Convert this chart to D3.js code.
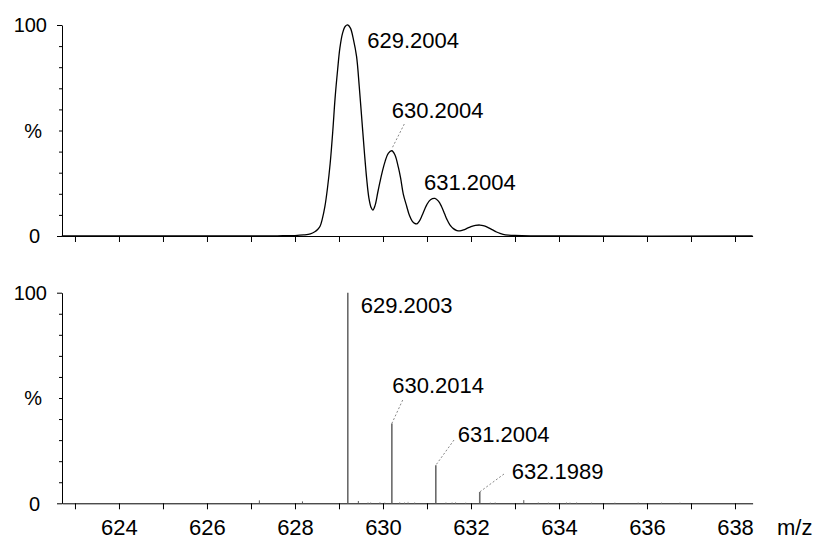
<!DOCTYPE html>
<html><head><meta charset="utf-8">
<script src="https://cdn.jsdelivr.net/npm/d3@7"></script>
<style>
html,body{margin:0;padding:0;background:#fff;}
svg text{font-family:"Liberation Sans",Arial,sans-serif;fill:#000;}
</style></head>
<body>
<svg id="chart" width="821" height="540"></svg>
<script>
// ---- data ----
// profile (top panel): [m/z, %]
const profileMz = [622.7,627.0,627.6,628.0,628.2,628.35,628.45,628.52,628.57,628.62,628.68,628.74,628.80,628.86,628.91,628.97,629.02,629.08,629.14,629.20,629.26,629.33,629.40,629.46,629.52,629.58,629.63,629.68,629.73,629.77,629.82,629.88,629.93,629.99,630.05,630.12,630.20,630.27,630.35,630.40,630.46,630.54,630.60,630.66,630.72,630.77,630.83,630.89,630.95,631.00,631.08,631.18,631.26,631.33,631.40,631.45,631.52,631.60,631.68,631.75,631.83,631.92,632.00,632.10,632.20,632.30,632.39,632.48,632.58,632.66,632.73,632.85,633.00,633.35,634.0,638.4];
const profileInt = [0,0.05,0.1,0.2,0.5,1.0,2.0,3.2,4.6,8,14,23,34.5,50,65,79,89,96,99.3,100,98.5,93,85,71,55,39,27,18,13.5,12.3,14.5,20.5,25.5,31,35.5,39.2,40.4,38.5,32.5,27.5,20,14,9.8,7.2,6.0,5.8,7.2,9.8,12.8,15,17.2,17.8,16.5,14,10.5,8.0,5.3,3.5,2.6,2.4,2.9,3.7,4.4,5.0,5.2,4.8,4.0,3.0,1.9,1.2,0.8,0.45,0.25,0.05,0,0];
// centroid sticks (bottom panel)
const stickMz = [629.2003,630.2014,631.2004,632.1989];
const stickInt = [100,37.9,18.1,5.4];
// small noise sticks (bottom panel)
const noiseMz = [627.19,628.17,629.44,629.66,629.72,629.93,630.04,630.38,630.49,630.57,630.72,631.43,631.57,631.65,631.88,632.44,632.55,633.20,633.53,633.76,634.17,634.25,634.40,634.74,635.27,635.80,636.33,636.75];
const noiseInt = [1.4,0.9,1.1,0.5,0.5,0.6,0.4,0.6,0.5,0.7,0.5,0.5,0.5,0.6,0.4,0.4,0.5,1.5,0.5,0.4,0.5,0.4,0.5,0.4,0.4,0.4,0.4,0.4];
// peak labels
const topLabels = ["629.2004","630.2004","631.2004"];
const bottomLabels = ["629.2003","630.2014","631.2004","632.1989"];
const xTickValues = [623,624,625,626,627,628,629,630,631,632,633,634,635,636,637,638];
const yTickValues = [0,10,20,30,40,50,60,70,80,90,100];
const xAxisTitle = "m/z";

// ---- layout ----
const svg = d3.select("#chart");
const x = d3.scaleLinear().domain([622.705, 638.4]).range([62, 752.6]);
const yTop = d3.scaleLinear().domain([0,100]).range([236, 25]);
const yBot = d3.scaleLinear().domain([0,100]).range([503.3, 292.7]);

function drawYAxis(y) {
  const g = svg.append("g").attr("transform", "translate(62,0)")
    .call(d3.axisLeft(y).tickValues(yTickValues).tickSize(3).tickSizeOuter(0).tickFormat(""));
  g.select(".domain").attr("stroke", "#000").attr("stroke-width", 1);
  g.selectAll(".tick line").attr("stroke", "#000")
    .attr("x2", d => (d === 0 || d === 100) ? -5 : -3);
  svg.append("text").attr("x", 47).attr("y", y(100) + 7.2).attr("text-anchor", "end").attr("font-size", 20).text("100");
  svg.append("text").attr("x", 42).attr("y", y(50) + 7.2).attr("text-anchor", "end").attr("font-size", 20).text("%");
  svg.append("text").attr("x", 40).attr("y", y(0) + 7.2).attr("text-anchor", "end").attr("font-size", 20).text("0");
}
function drawXAxis(y, labels) {
  const g = svg.append("g").attr("transform", `translate(0,${y(0)})`)
    .call(d3.axisBottom(x).tickValues(xTickValues).tickSize(6).tickSizeOuter(0)
      .tickFormat(d => (labels && d % 2 === 0) ? String(d) : ""));
  g.select(".domain").attr("stroke", "#000").attr("stroke-width", 1);
  g.selectAll(".tick line").attr("stroke", "#000");
  g.selectAll(".tick text").attr("font-size", 22).attr("font-family", "Liberation Sans, Arial, sans-serif")
    .attr("fill", "#000").attr("dy", 0).attr("y", 32);
}

// ---- top panel ----
drawYAxis(yTop);
drawXAxis(yTop, false);
const profile = profileMz.map((m, i) => [m, profileInt[i]]);
svg.append("path").datum(profile)
  .attr("d", d3.line().x(d => x(d[0])).y(d => Math.min(yTop(0), yTop(d[1]))).curve(d3.curveCatmullRom.alpha(0.5)))
  .attr("fill", "none").attr("stroke", "#000").attr("stroke-width", 1.3);

// top labels
svg.append("text").attr("x", 367.3).attr("y", 47.5).attr("font-size", 22).text(topLabels[0]);
svg.append("text").attr("x", 391.7).attr("y", 118.3).attr("font-size", 22).text(topLabels[1]);
svg.append("text").attr("x", 424).attr("y", 190).attr("font-size", 22).text(topLabels[2]);
svg.append("line").attr("x1", 404.3).attr("y1", 124).attr("x2", x(630.2)).attr("y2", yTop(40.4) - 2)
  .attr("stroke", "#888").attr("stroke-width", 1).attr("stroke-dasharray", "2,2");

// ---- bottom panel ----
drawYAxis(yBot);
drawXAxis(yBot, true);
svg.append("g").selectAll("line").data(noiseMz.map((m, i) => [m, noiseInt[i]])).join("line")
  .attr("x1", d => x(d[0])).attr("x2", d => x(d[0]))
  .attr("y1", yBot(0)).attr("y2", d => yBot(d[1]))
  .attr("stroke", d => d[1] >= 0.9 ? "#555" : "#aaa").attr("stroke-width", 1);
svg.append("g").selectAll("line").data(stickMz.map((m, i) => [m, stickInt[i]])).join("line")
  .attr("x1", d => x(d[0])).attr("x2", d => x(d[0]))
  .attr("y1", yBot(0)).attr("y2", d => yBot(d[1]))
  .attr("stroke", "#6a6a6a").attr("stroke-width", 1.6);

const botLabelPos = [[360.7, 313.3], [392.3, 392.7], [457.7, 441.7], [511.7, 479.3]];
const leaderStart = [null, [402.7, 400], [454, 440], [504, 474]];
bottomLabels.forEach((t, i) => {
  svg.append("text").attr("x", botLabelPos[i][0]).attr("y", botLabelPos[i][1]).attr("font-size", 22).text(t);
  if (leaderStart[i]) {
    svg.append("line").attr("x1", leaderStart[i][0]).attr("y1", leaderStart[i][1])
      .attr("x2", x(stickMz[i])).attr("y2", yBot(stickInt[i]))
      .attr("stroke", "#888").attr("stroke-width", 1).attr("stroke-dasharray", "2,2");
  }
});
svg.append("text").attr("x", 777).attr("y", 534.5).attr("font-size", 22).text(xAxisTitle);
</script>
</body></html>
